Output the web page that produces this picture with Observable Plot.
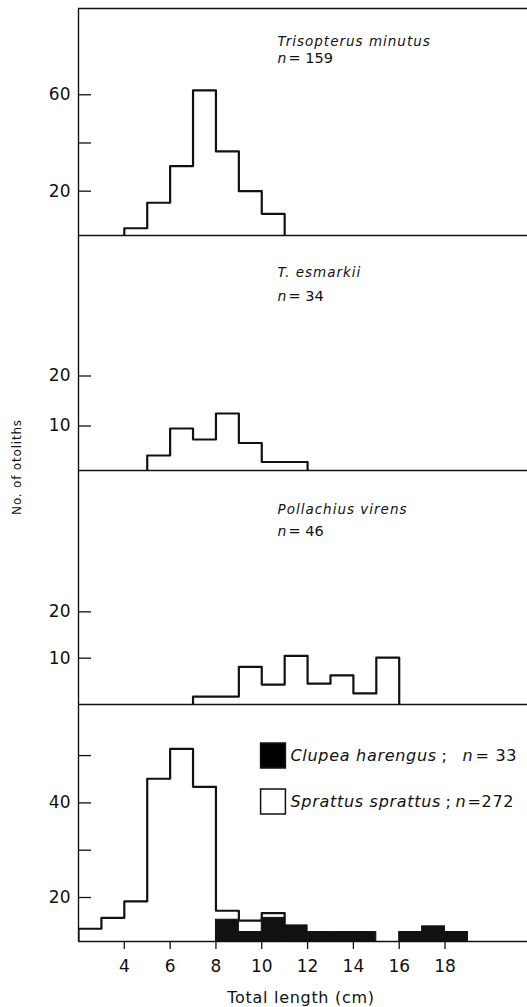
<!DOCTYPE html>
<html><head><meta charset="utf-8">
<script src="https://cdn.jsdelivr.net/npm/d3@7"></script>
<script src="https://cdn.jsdelivr.net/npm/@observablehq/plot@0.6"></script>
<style>
body{margin:0;background:#fff;}
#chart{position:relative;width:527px;height:1007px;overflow:hidden;background:#fff;}
#chart svg{position:absolute;left:0;overflow:visible;}
g[font-style="italic"] text{letter-spacing:1px;}
g[font-size="16"] text{letter-spacing:0.7px;}
#ylab{position:absolute;left:17px;top:467px;transform:translate(-50%,-50%) rotate(-90deg);font:12px "DejaVu Sans";letter-spacing:0.8px;white-space:nowrap;color:#111;}
</style></head><body>
<div id="chart"><div id="ylab">No. of otoliths</div></div>
<script>
// ---- data (1-cm length classes, value = count read on each panel's axis)
const xDomain = [2, 21.6];
const xTicks = [4, 6, 8, 10, 12, 14, 16, 18];

// Trisopterus minutus, n = 159
const tmStarts = [4, 5, 6, 7, 8, 9, 10];
const tmCounts = [4.6, 15.2, 30.4, 61.8, 36.5, 20, 10.6];
const tmYDomain = [1.6, 95.8];
const tmYTicks = [20, 40, 60];
const tmYLabels = [20, 60];

// T. esmarkii, n = 34
const teStarts = [5, 6, 7, 8, 9, 10, 11];
const teCounts = [4.1, 9.5, 7.3, 12.5, 6.6, 2.8, 2.8];
const teYDomain = [1.1, 48.1];
const teYTicks = [10, 20];
const teYLabels = [10, 20];

// Pollachius virens, n = 46
const pvStarts = [7, 8, 9, 10, 11, 12, 13, 14, 15];
const pvCounts = [1.7, 1.7, 8.1, 4.3, 10.5, 4.5, 6.3, 2.4, 10.1];
const pvYDomain = [0, 50.5];
const pvYTicks = [10, 20];
const pvYLabels = [10, 20];

// Sprattus sprattus (open), n = 272 ; Clupea harengus (black), n = 33
const ssStarts = [2, 3, 4, 5, 6, 7, 8, 9, 10];
const ssCounts = [13.4, 15.7, 19.2, 45.1, 51.4, 43.4, 17.2, 15.1, 16.7];
const chStarts = [8, 9, 10, 11, 12, 13, 14, 16, 17, 18];
const chCounts = [15.3, 12.7, 15.7, 14.1, 12.7, 12.7, 12.7, 12.7, 13.9, 12.7];
const bsYDomain = [10.7, 60.8];
const bsYTicks = [20, 30, 40, 50];
const bsYLabels = [20, 40];

const titles = [
  {name: "Trisopterus minutus", n: "= 159"},
  {name: "T. esmarkii", n: "= 34"},
  {name: "Pollachius virens", n: "= 46"}
];
const legendItems = [
  {name: "Clupea harengus", n: "= 33", fill: "black"},
  {name: "Sprattus sprattus", n: "=272", fill: "white"}
];

// ---- helpers
const INK = "#111";
const FONT = "DejaVu Sans";
function outline(starts, counts) {
  const pts = [{x: starts[0], y: 0}];
  starts.forEach((s, i) => pts.push({x: s, y: counts[i]}));
  pts.push({x: starts[starts.length - 1] + 1, y: 0});
  return pts;
}
function frameMarks(yDomain, withTop) {
  const m = [
    Plot.ruleX([xDomain[0]], {stroke: INK, strokeWidth: 1.4}),
    Plot.ruleY([yDomain[0]], {stroke: INK, strokeWidth: 1.4})
  ];
  if (withTop) m.push(Plot.ruleY([yDomain[1]], {stroke: INK, strokeWidth: 1.4}));
  return m;
}
function yAxisMarks(ticks, labels) {
  return [
    Plot.axisY({ticks, tickSize: 13, dx: 13, tickFormat: () => "", label: null, stroke: INK, strokeWidth: 1.3}),
    Plot.axisY({ticks: labels, tickSize: 0, tickPadding: 8, label: null, fontSize: 17, fill: INK})
  ];
}
function titleMarks(t, dyName, dyN) {
  return [
    Plot.text([t.name], {x: null, y: null, frameAnchor: "top-left", dx: 199, dy: dyName, text: d => d,
      textAnchor: "start", lineAnchor: "middle", fontStyle: "italic", fontSize: 13.5, fill: INK}),
    Plot.text(["n"], {x: null, y: null, frameAnchor: "top-left", dx: 199, dy: dyN, text: d => d,
      textAnchor: "start", lineAnchor: "middle", fontStyle: "italic", fontSize: 14, fill: INK}),
    Plot.text([t.n], {x: null, y: null, frameAnchor: "top-left", dx: 210, dy: dyN, text: d => d,
      textAnchor: "start", lineAnchor: "middle", fontSize: 14.5, fill: INK})
  ];
}
function histLine(starts, counts) {
  return Plot.line(outline(starts, counts), {x: "x", y: "y", curve: "step-after", stroke: INK, strokeWidth: 2.2, clip: true});
}
const baseStyle = {background: "transparent", overflow: "visible", fontFamily: FONT, color: INK};

function place(svg, top) {
  svg.style.top = top + "px";
  document.getElementById("chart").appendChild(svg);
}

// ---- panel 1
place(Plot.plot({
  width: 527, height: 235, marginTop: 8, marginBottom: 0, marginLeft: 78, marginRight: 0,
  style: baseStyle,
  x: {domain: xDomain, axis: null},
  y: {domain: tmYDomain},
  marks: [
    ...frameMarks(tmYDomain, true),
    histLine(tmStarts, tmCounts),
    ...yAxisMarks(tmYTicks, tmYLabels),
    ...titleMarks(titles[0], 33, 50)
  ]
}), 0);

// ---- panel 2
place(Plot.plot({
  width: 527, height: 235, marginTop: 0, marginBottom: 0, marginLeft: 78, marginRight: 0,
  style: baseStyle,
  x: {domain: xDomain, axis: null},
  y: {domain: teYDomain},
  marks: [
    ...frameMarks(teYDomain, false),
    histLine(teStarts, teCounts),
    ...yAxisMarks(teYTicks, teYLabels),
    ...titleMarks(titles[1], 37, 61)
  ]
}), 235);

// ---- panel 3
place(Plot.plot({
  width: 527, height: 234, marginTop: 0, marginBottom: 0, marginLeft: 78, marginRight: 0,
  style: baseStyle,
  x: {domain: xDomain, axis: null},
  y: {domain: pvYDomain},
  marks: [
    ...frameMarks(pvYDomain, false),
    histLine(pvStarts, pvCounts),
    ...yAxisMarks(pvYTicks, pvYLabels),
    ...titleMarks(titles[2], 39, 61)
  ]
}), 470);

// ---- panel 4
const chData = chStarts.map((s, i) => ({x1: s, x2: s + 1, y2: chCounts[i]}));
const legendOffsets = [
  {semi: 363, n: 384, num: 397},
  {semi: 367, n: 377, num: 389}
];
const legendMarks = legendItems.flatMap((d, i) => {
  const dy = 51 + i * 46;
  const o = legendOffsets[i];
  return [
    Plot.dot([d], {x: null, y: null, frameAnchor: "top-left", dx: 194.5, dy, symbol: "square", r: 14,
      fill: d.fill, stroke: INK, strokeWidth: 1.5}),
    Plot.text([d], {x: null, y: null, frameAnchor: "top-left", dx: 212, dy, text: "name",
      textAnchor: "start", lineAnchor: "middle", fontStyle: "italic", fontSize: 16, fill: INK}),
    Plot.text([d], {x: null, y: null, frameAnchor: "top-left", dx: o.semi, dy, text: () => ";",
      textAnchor: "start", lineAnchor: "middle", fontSize: 16, fill: INK}),
    Plot.text([d], {x: null, y: null, frameAnchor: "top-left", dx: o.n, dy, text: () => "n",
      textAnchor: "start", lineAnchor: "middle", fontStyle: "italic", fontSize: 16, fill: INK}),
    Plot.text([d], {x: null, y: null, frameAnchor: "top-left", dx: o.num, dy, text: "n",
      textAnchor: "start", lineAnchor: "middle", fontSize: 16, fill: INK})
  ];
});
place(Plot.plot({
  width: 527, height: 303, marginTop: 0, marginBottom: 66, marginLeft: 78, marginRight: 0,
  style: baseStyle,
  x: {domain: xDomain},
  y: {domain: bsYDomain},
  marks: [
    histLine(ssStarts, ssCounts),
    Plot.rect(chData, {x1: "x1", x2: "x2", y1: 0, y2: "y2", fill: INK, stroke: INK, strokeWidth: 1, clip: true}),
    ...frameMarks(bsYDomain, false),
    ...yAxisMarks(bsYTicks, bsYLabels),
    Plot.axisX({ticks: xTicks, tickSize: 8, tickPadding: 10, label: null, fontSize: 17, fill: INK, stroke: INK, strokeWidth: 1.3}),
    Plot.text(["Total length (cm)"], {x: null, y: null, frameAnchor: "bottom", dx: -2, dy: 56, text: d => d,
      lineAnchor: "middle", fontSize: 16, fill: INK}),
    ...legendMarks
  ]
}), 704);
</script></body></html>
